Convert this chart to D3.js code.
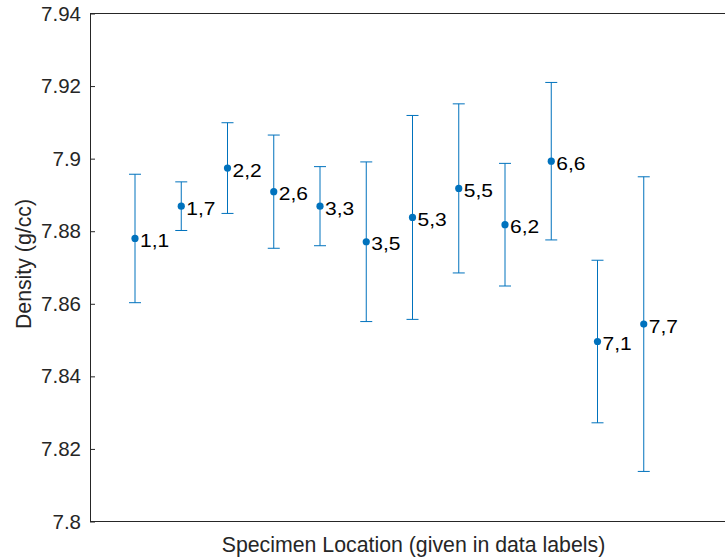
<!DOCTYPE html>
<html>
<head>
<meta charset="utf-8">
<script src="https://cdn.jsdelivr.net/npm/d3@7"></script>
<style>
  html, body { margin: 0; padding: 0; background: #fff; }
  svg { display: block; font-family: "Liberation Sans", Arial, Helvetica, sans-serif; }
</style>
</head>
<body>
<svg id="chart" width="725" height="560"></svg>
<script>
// Specimen locations (row,column) in plotting order
const locations = ["1,1", "1,7", "2,2", "2,6", "3,3", "3,5", "5,3", "5,5", "6,2", "6,6", "7,1", "7,7"];
// Mean density per specimen (g/cc)
const density = [7.8780, 7.8869, 7.8974, 7.8909, 7.8869, 7.8771, 7.8838, 7.8918, 7.8818, 7.8993, 7.8496, 7.8544];
// Half-width of the error bar per specimen (g/cc)
const spread = [0.0177, 0.0067, 0.0125, 0.0156, 0.0109, 0.0220, 0.0281, 0.0233, 0.0169, 0.0217, 0.0224, 0.0406];
// Y axis ticks
const yTicks = [7.8, 7.82, 7.84, 7.86, 7.88, 7.9, 7.92, 7.94];

const svg = d3.select("#chart");
const W = 725, H = 560;
const plotLeft = 90, plotTop = 13.5, plotBottom = 521.5;
const axisColor = "#262626";
const markColor = "#0072BD";

const x = d3.scaleLinear().domain([0, 14]).range([88.75, 736.25]);
const y = d3.scaleLinear().domain([7.8, 7.94]).range([plotBottom, plotTop]);

// Axis box (left, top, bottom; the right side runs past the frame)
svg.append("line").attr("x1", plotLeft).attr("x2", W).attr("y1", plotTop).attr("y2", plotTop)
  .attr("stroke", axisColor).attr("stroke-width", 1);
svg.append("line").attr("x1", plotLeft).attr("x2", W).attr("y1", plotBottom).attr("y2", plotBottom)
  .attr("stroke", axisColor).attr("stroke-width", 1);

const yAxis = d3.axisLeft(y).tickValues(yTicks).tickSizeInner(-5).tickSizeOuter(0)
  .tickPadding(9)
  .tickFormat(d => d3.format("~g")(d));
const gy = svg.append("g").attr("transform", `translate(${plotLeft},0)`).call(yAxis);
gy.select(".domain").attr("stroke", axisColor);
gy.selectAll(".tick line").attr("stroke", axisColor);
gy.selectAll(".tick text").attr("fill", axisColor).attr("font-size", 20.5)
  .attr("font-family", "Liberation Sans, Arial, sans-serif");

// Axis titles
svg.append("text").attr("x", 413.5).attr("y", 552.3)
  .attr("text-anchor", "middle").attr("fill", axisColor).attr("font-size", 21.3)
  .text("Specimen Location (given in data labels)");
svg.append("text").attr("transform", "translate(31,264) rotate(-90)")
  .attr("text-anchor", "middle").attr("fill", axisColor).attr("font-size", 21.3)
  .text("Density (g/cc)");

const data = locations.map((loc, i) => ({ loc, i: i + 1, v: density[i], e: spread[i] }));
const cap = 6;

const bars = svg.append("g").selectAll("g.bar").data(data).join("g").attr("class", "bar");
bars.append("line")
  .attr("x1", d => x(d.i)).attr("x2", d => x(d.i))
  .attr("y1", d => y(d.v + d.e)).attr("y2", d => y(d.v - d.e))
  .attr("stroke", markColor).attr("stroke-width", 1);
bars.append("line")
  .attr("x1", d => x(d.i) - cap).attr("x2", d => x(d.i) + cap)
  .attr("y1", d => y(d.v + d.e)).attr("y2", d => y(d.v + d.e))
  .attr("stroke", markColor).attr("stroke-width", 1);
bars.append("line")
  .attr("x1", d => x(d.i) - cap).attr("x2", d => x(d.i) + cap)
  .attr("y1", d => y(d.v - d.e)).attr("y2", d => y(d.v - d.e))
  .attr("stroke", markColor).attr("stroke-width", 1);
bars.append("circle")
  .attr("cx", d => x(d.i)).attr("cy", d => y(d.v)).attr("r", 3.6)
  .attr("fill", markColor);
// Location labels, set a little wide to the right of each point
bars.append("text")
  .attr("transform", d => `translate(${x(d.i) + 5},${y(d.v) + 8.6}) scale(1.2,1)`)
  .attr("font-size", 17.5).attr("fill", "#000")
  .text(d => d.loc);
</script>
</body>
</html>
